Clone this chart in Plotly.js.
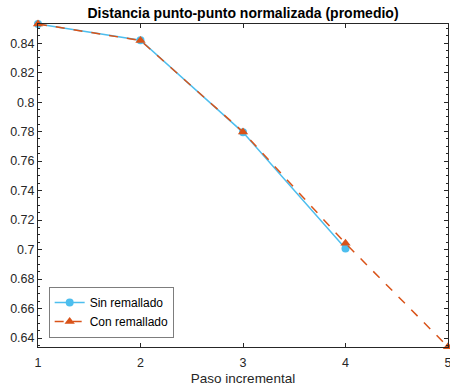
<!DOCTYPE html>
<html><head><meta charset="utf-8">
<script src="https://cdn.plot.ly/plotly-3.0.1.min.js"></script>
<style>html,body{margin:0;padding:0;background:#fff}#chart{width:450px;height:392px}</style>
</head><body><div id="chart"></div>
<script>
var pasos = [1, 2, 3, 4, 5];
var pasosSin = [1, 2, 3, 4];
var sinRemallado = [0.853, 0.842, 0.7795, 0.7008];
var conRemallado = [0.853, 0.8418, 0.7798, 0.7042, 0.634];
var xTicks = [1, 2, 3, 4, 5];
var yTicks = [0.64, 0.66, 0.68, 0.70, 0.72, 0.74, 0.76, 0.78, 0.80, 0.82, 0.84];
var yTickText = ['0.64','0.66','0.68','0.7','0.72','0.74','0.76','0.78','0.8','0.82','0.84'];

var fontFam = 'Liberation Sans, Arial, sans-serif';
var axisCol = '#262626';

var traces = [
  {x: pasosSin, y: sinRemallado, name: 'Sin remallado', type: 'scatter', mode: 'lines+markers',
   line: {color: '#4DBEEE', width: 1.5}, marker: {symbol: 'circle', size: 8, color: '#4DBEEE'}, cliponaxis: false},
  {x: pasos, y: conRemallado, name: 'Con remallado', type: 'scatter', mode: 'lines+markers',
   line: {color: '#D95319', width: 1.5, dash: 'dash'}, marker: {symbol: 'triangle-up', size: 9, color: '#D95319'}, cliponaxis: false}
];

var layout = {
  width: 450, height: 392,
  margin: {l: 38, r: 2, t: 24, b: 45},
  paper_bgcolor: '#fff', plot_bgcolor: '#fff',
  font: {family: fontFam, size: 11, color: axisCol},
  title: {text: '<b>Distancia punto-punto normalizada (promedio)</b>', font: {family: fontFam, size: 14, color: '#000'},
          xref: 'paper', x: 0.5, xanchor: 'center', yref: 'container', y: 0.978, yanchor: 'top'},
  xaxis: {range: [1, 5], tickvals: xTicks, ticktext: xTicks.map(String), ticks: 'inside', ticklen: 4,
          tickcolor: axisCol, showline: true, linecolor: axisCol, linewidth: 1, mirror: 'ticks',
          showgrid: false, zeroline: false, tickfont: {size: 12.5, color: axisCol},
          ticklabeloverflow: 'allow', ticklabelstandoff: 4,
          title: {text: 'Paso incremental', font: {size: 13.5, color: axisCol}, standoff: 4}},
  yaxis: {range: [0.6339, 0.853], tickvals: yTicks, ticktext: yTickText, ticks: 'inside', ticklen: 4,
          tickcolor: axisCol, showline: true, linecolor: axisCol, linewidth: 1, mirror: 'ticks',
          showgrid: false, zeroline: false, tickfont: {size: 12.5, color: axisCol}, ticklabeloverflow: 'allow',
          minor: {dtick: 0.005, tick0: 0.64, ticks: 'inside', ticklen: 2, tickcolor: axisCol, showgrid: false}},
  showlegend: true,
  legend: {x: 0.027, y: 0.03, xanchor: 'left', yanchor: 'bottom', bgcolor: '#fff', bordercolor: axisCol,
           borderwidth: 0.6, font: {size: 12, color: '#000'}, tracegroupgap: 0, itemwidth: 30}
};
Plotly.newPlot('chart', traces, layout, {displayModeBar: false, staticPlot: true});
</script></body></html>
